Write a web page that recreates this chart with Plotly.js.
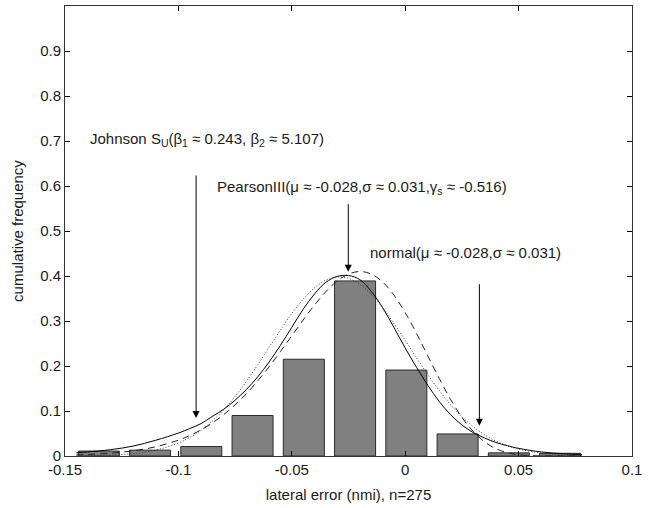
<!DOCTYPE html>
<html>
<head>
<meta charset="utf-8">
<script src="https://cdn.plot.ly/plotly-3.0.1.min.js"></script>
<style>html,body{margin:0;padding:0;background:#fff;}#chart{width:662px;height:508px;}</style>
</head>
<body>
<div id="chart"></div>
<script>
// Histogram bins (centres) and heights
var binCenters = [-0.1351, -0.1125, -0.0899, -0.0673, -0.0447, -0.0221, 0.0005, 0.0231, 0.0457, 0.0683];
var binHeights = [0.011, 0.013, 0.021, 0.090, 0.215, 0.389, 0.191, 0.049, 0.007, 0.006];

// Fitted curves
var curveX = [-0.145, -0.14, -0.13, -0.12, -0.11, -0.10, -0.095, -0.09, -0.085, -0.08, -0.075, -0.07, -0.065, -0.06, -0.055, -0.05, -0.045, -0.04, -0.035, -0.03, -0.025, -0.02, -0.015, -0.01, -0.005, 0, 0.005, 0.01, 0.015, 0.02, 0.025, 0.03, 0.035, 0.04, 0.045, 0.05, 0.06, 0.07, 0.078];
var johnsonY = [0.007, 0.009, 0.014, 0.022, 0.035, 0.051, 0.061, 0.072, 0.088, 0.104, 0.124, 0.148, 0.176, 0.209, 0.246, 0.286, 0.326, 0.360, 0.386, 0.399, 0.401, 0.392, 0.366, 0.330, 0.286, 0.240, 0.197, 0.157, 0.121, 0.092, 0.069, 0.052, 0.040, 0.030, 0.023, 0.017, 0.009, 0.005, 0.003];
var normalY = [0.0004, 0.0007, 0.002, 0.0054, 0.0131, 0.0289, 0.0413, 0.0574, 0.0779, 0.1029, 0.1324, 0.1659, 0.2029, 0.2414, 0.2800, 0.3165, 0.3484, 0.3737, 0.3906, 0.3978, 0.3947, 0.3816, 0.3594, 0.3299, 0.2949, 0.2570, 0.2181, 0.1804, 0.1454, 0.1141, 0.0873, 0.0651, 0.0472, 0.0334, 0.0230, 0.0155, 0.0065, 0.0024, 0.001];
var pearsonY = [0.0024, 0.0034, 0.0063, 0.0116, 0.0205, 0.0352, 0.0455, 0.0581, 0.0736, 0.0920, 0.1138, 0.1385, 0.1672, 0.1982, 0.2323, 0.2670, 0.3022, 0.3353, 0.3651, 0.3888, 0.4041, 0.4100, 0.4044, 0.3869, 0.3578, 0.3184, 0.2724, 0.2223, 0.1724, 0.1259, 0.0860, 0.0543, 0.0314, 0.0162, 0.0074, 0.0029, 0.0002, 0.0, 0.0];

// Tick labels
var xTickVals = [-0.15, -0.1, -0.05, 0, 0.05, 0.1];
var xTickText = ["-0.15", "-0.1", "-0.05", "0", "0.05", "0.1"];
var yTickVals = [0, 0.1, 0.2, 0.3, 0.4, 0.5, 0.6, 0.7, 0.8, 0.9, 1];
var yTickText = ["0", "0.1", "0.2", "0.3", "0.4", "0.5", "0.6", "0.7", "0.8", "0.9", "1"];

var labelJohnson = "Johnson S<sub>U</sub>(β<sub>1</sub> ≈ 0.243, β<sub>2</sub> ≈ 5.107)";
var labelPearson = "PearsonIII(μ ≈ -0.028,σ ≈ 0.031,γ<sub>s</sub> ≈ -0.516)";
var labelNormal = "normal(μ ≈ -0.028,σ ≈ 0.031)";
var xTitle = "lateral error (nmi), n=275";
var yTitle = "cumulative frequency";

var FONT = "Liberation Sans, Arial, Helvetica, sans-serif";
var TXT = "#1a1a1a";
var FS = 15;

var traces = [
  {type: "bar", x: binCenters, y: binHeights,
   marker: {color: "#808080", line: {color: "#2a2a2a", width: 1}},
   hoverinfo: "x+y"},
  {type: "scatter", mode: "lines", x: curveX, y: johnsonY,
   line: {color: "#000000", width: 1, shape: "spline"}},
  {type: "scatter", mode: "lines", x: curveX, y: normalY,
   line: {color: "#333333", width: 1, dash: "1px,2px", shape: "spline"}},
  {type: "scatter", mode: "lines", x: curveX, y: pearsonY,
   line: {color: "#222222", width: 1, dash: "7px,5px", shape: "spline"}}
];

function arrow(xTip, yTip, yTail) {
  return {x: xTip, y: yTip, xref: "x", yref: "y", ax: xTip, ay: yTail, axref: "x", ayref: "y",
          text: "", showarrow: true, arrowhead: 2, arrowsize: 1.4, arrowwidth: 1, arrowcolor: "#000"};
}
function label(x, y, txt) {
  return {x: x, y: y, xref: "x", yref: "y", text: txt, showarrow: false,
          xanchor: "left", yanchor: "middle", font: {family: FONT, size: FS, color: TXT}};
}

var layout = {
  width: 662, height: 508,
  margin: {l: 65, r: 30, t: 6, b: 52},
  paper_bgcolor: "#fff", plot_bgcolor: "#fff",
  showlegend: false,
  bargap: 0.2,
  font: {family: FONT, size: FS, color: TXT},
  xaxis: {range: [-0.15, 0.1], tickvals: xTickVals, ticktext: xTickText,
          ticks: "inside", ticklen: 5, tickcolor: "#000", showline: true, linecolor: "#333", linewidth: 1,
          mirror: "ticks", showgrid: false, zeroline: false, fixedrange: true,
          tickfont: {family: FONT, size: FS, color: TXT},
          title: {text: xTitle, font: {family: FONT, size: FS, color: TXT}, standoff: 12}},
  yaxis: {range: [0, 1], tickvals: yTickVals, ticktext: yTickText,
          ticks: "inside", ticklen: 5, tickcolor: "#000", showline: true, linecolor: "#333", linewidth: 1,
          mirror: "ticks", showgrid: false, zeroline: false, fixedrange: true,
          tickfont: {family: FONT, size: FS, color: TXT},
          title: {text: yTitle, font: {family: FONT, size: FS, color: TXT}, standoff: 12}},
  annotations: [
    arrow(-0.0922, 0.0844, 0.6267),
    arrow(-0.0251, 0.4096, 0.5629),
    arrow(0.0327, 0.0673, 0.3851),
    label(-0.1398, 0.703, labelJohnson),
    label(-0.0838, 0.597, labelPearson),
    label(-0.0163, 0.453, labelNormal)
  ]
};

Plotly.newPlot("chart", traces, layout, {displayModeBar: false, staticPlot: true});
</script>
</body>
</html>
